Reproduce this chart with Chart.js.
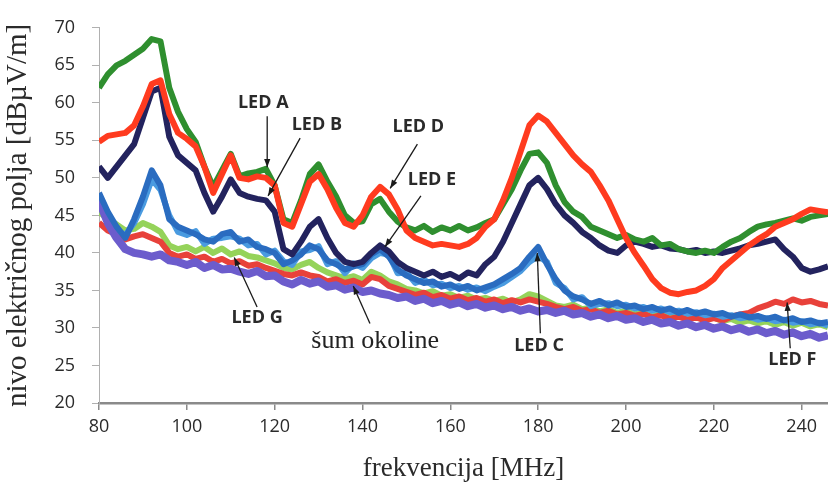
<!DOCTYPE html>
<html>
<head>
<meta charset="utf-8">
<script src="https://cdn.jsdelivr.net/npm/chart.js@4.4.1/dist/chart.umd.min.js"></script>
<style>
  html, body { margin: 0; padding: 0; background: #fff; }
  #wrap { width: 828px; height: 489px; position: relative; }
</style>
</head>
<body>
<div id="wrap"><canvas id="fieldChart"></canvas></div>
<script>
// frequency points in MHz
const freq = [80,82,84,86,88,90,92,94,96,98,100,102,104,106,108,110,112,114,116,118,120,122,124,126,128,130,132,134,136,138,140,142,144,146,148,150,152,154,156,158,160,162,164,166,168,170,172,174,176,178,180,182,184,186,188,190,192,194,196,198,200,202,204,206,208,210,212,214,216,218,220,222,224,226,228,230,232,234,236,238,240,242,244,246];

// field level in dBuV/m
const ledA = [62.0,63.8,65.0,65.6,66.4,67.2,68.5,68.2,62.0,58.8,56.5,54.8,51.5,48.8,51.0,53.2,50.2,50.6,50.8,51.2,49.0,44.5,44.0,47.0,50.5,51.8,49.5,47.5,45.0,44.0,44.2,46.5,47.2,45.5,44.2,43.4,43.0,43.6,42.8,43.4,43.0,43.6,43.0,43.4,44.0,44.5,46.5,48.5,51.0,53.2,53.4,52.0,49.0,46.8,45.5,44.8,43.5,43.0,42.5,42.0,42.4,41.8,41.5,42.0,41.0,41.2,40.5,40.2,40.0,40.3,40.0,40.8,41.5,42.0,42.8,43.5,43.8,44.0,44.3,44.6,44.3,44.8,45.0,45.2];
const ledD = [54.8,55.6,55.8,56.0,57.0,59.5,62.5,63.0,58.5,56.0,55.2,54.2,51.5,48.0,50.5,53.0,50.0,49.8,50.2,50.0,49.0,44.0,43.5,46.5,49.5,50.5,48.5,46.0,44.0,43.5,45.0,47.5,48.8,47.8,45.8,43.0,42.0,41.5,41.0,41.2,41.0,40.8,41.2,42.0,43.5,44.5,47.0,50.0,53.5,57.0,58.3,57.5,56.0,54.5,53.0,51.8,50.8,49.0,47.0,44.5,42.0,40.0,38.3,36.5,35.3,34.7,34.5,34.8,35.0,35.6,36.5,38.0,39.0,40.0,41.0,41.8,42.5,43.5,44.0,44.5,45.2,45.8,45.6,45.4];
const ledB = [51.5,50.0,51.5,53.0,54.5,58.0,61.5,62.0,55.5,53.0,52.0,51.0,48.0,45.5,47.5,49.8,48.0,47.5,47.2,47.0,45.5,40.5,39.8,41.5,43.5,44.5,42.0,40.0,38.8,38.5,38.8,40.0,41.0,40.2,38.8,38.0,37.5,37.0,37.5,36.8,37.2,36.6,37.4,37.0,38.5,39.5,41.5,44.0,46.5,49.0,50.0,48.5,46.5,45.0,44.0,42.8,42.0,41.0,40.3,40.0,41.0,41.5,41.2,40.8,41.0,40.6,40.5,40.2,40.4,40.0,40.2,40.0,40.3,40.6,41.0,41.2,41.5,41.8,40.5,39.5,38.0,37.5,37.8,38.2];
const ledC = [48.0,45.5,43.5,42.0,44.5,47.5,51.0,49.0,44.5,43.5,43.0,42.5,41.8,41.5,42.5,42.8,41.5,41.8,40.8,40.5,40.0,38.5,39.0,39.8,41.0,40.5,39.0,38.5,37.8,38.2,38.5,39.8,40.5,39.5,37.8,37.0,36.5,36.0,36.2,35.5,35.8,35.2,35.6,35.0,35.4,35.8,36.5,37.2,38.0,39.5,40.8,38.5,36.5,35.0,34.2,33.8,33.2,33.6,33.0,33.4,32.8,33.0,32.5,32.8,32.3,32.6,32.0,32.4,31.9,32.2,31.8,32.0,31.5,31.8,31.4,31.6,31.2,31.5,31.0,31.3,30.8,31.0,30.6,30.8];
const ledE = [47.0,44.8,43.0,42.4,44.0,46.5,49.8,48.4,45.0,42.8,42.4,42.9,41.2,41.9,42.0,42.2,41.9,41.0,41.2,39.8,40.3,38.9,38.4,40.2,40.4,40.9,38.5,38.9,37.3,38.6,38.0,39.3,40.0,39.8,37.3,37.4,36.0,36.4,35.7,35.9,35.3,35.6,35.1,35.4,34.9,35.5,36.0,36.8,37.6,38.8,39.6,38.8,36.0,35.3,33.8,34.1,32.9,33.2,33.3,32.9,33.1,32.6,32.8,32.3,32.6,32.1,32.3,31.9,32.1,31.7,31.9,31.5,31.7,31.3,31.5,31.1,31.3,30.9,31.1,30.7,30.9,30.5,30.7,30.3];
const ledF = [44.0,43.0,42.5,41.8,42.2,42.5,42.0,41.5,40.0,39.5,39.8,39.2,39.5,38.8,39.2,38.6,38.9,38.3,38.5,38.0,37.6,37.2,37.0,37.4,37.0,36.8,36.2,36.5,36.0,36.3,35.8,36.8,36.5,35.6,35.2,34.8,34.4,34.7,34.1,34.4,33.9,34.2,33.7,34.0,33.5,33.8,33.3,33.7,33.4,33.8,33.5,33.2,32.8,32.5,32.8,32.3,32.5,32.0,32.3,31.8,32.0,31.6,31.9,31.4,31.7,31.2,31.5,31.1,31.4,31.0,31.3,31.0,31.5,31.8,32.0,32.6,33.0,33.5,33.2,33.8,33.4,33.6,33.2,33.0];
const ledG = [45.5,44.5,43.8,43.0,43.2,44.0,43.5,42.8,41.0,40.5,40.8,40.2,40.8,40.0,40.6,39.8,40.2,39.6,39.4,39.0,38.6,38.0,37.8,38.4,38.8,38.0,37.4,37.0,36.6,36.9,36.4,37.5,37.0,36.2,35.8,35.2,35.0,34.6,34.9,34.3,34.5,34.0,34.3,33.8,34.0,33.6,33.9,33.4,33.8,34.5,34.2,33.6,33.0,32.8,33.1,32.5,32.7,32.2,32.5,32.0,32.3,31.8,32.1,31.5,31.9,31.4,31.7,31.2,31.5,31.0,31.4,30.9,31.2,30.7,31.0,30.6,30.9,30.4,30.8,30.3,30.7,30.2,30.5,30.1];
const noise = [47.0,44.0,42.0,40.5,40.0,39.8,39.5,39.8,39.0,38.8,38.4,38.8,38.0,38.4,37.8,37.9,37.5,37.2,37.6,36.9,37.0,36.2,35.8,36.4,35.9,36.2,35.5,35.7,35.1,35.4,34.8,35.0,34.6,34.4,34.0,34.2,33.6,33.9,33.3,33.6,33.1,33.4,32.9,33.2,32.7,33.0,32.5,32.8,32.3,32.6,32.2,32.4,32.0,32.3,31.8,32.0,31.5,31.8,31.3,31.6,31.1,31.3,30.8,31.1,30.6,30.8,30.3,30.6,30.1,30.4,29.9,30.2,29.7,30.0,29.5,29.8,29.3,29.6,29.1,29.4,28.9,29.2,28.7,29.0];

const yTicks = [20,25,30,35,40,45,50,55,60,65,70];

// text labels with arrows, anchored in data space [MHz, dB]
const notes = [
  { text: 'LED A', at: [117.4, 60.0], from: [118.3, 58.2], to: [118.3, 51.4] },
  { text: 'LED B', at: [129.6, 57.0], from: [125.8, 55.3], to: [118.5, 47.6] },
  { text: 'LED D', at: [152.7, 56.8], from: [152.5, 54.5], to: [146.3, 48.6] },
  { text: 'LED E', at: [155.8, 49.7], from: [153.3, 47.6], to: [145.1, 40.8] },
  { text: 'LED G', at: [116.0, 31.3], from: [116.0, 32.8], to: [110.8, 39.4] },
  { text: 'šum okoline', at: [142.9, 28.2], from: [141.7, 30.6], to: [137.9, 35.6], serif: true },
  { text: 'LED C', at: [180.2, 27.6], from: [180.5, 29.3], to: [179.8, 40.0] },
  { text: 'LED F', at: [237.9, 25.8], from: [237.4, 27.3], to: [236.7, 33.4] }
];

function series(label, data, color, width) {
  return {
    label: label,
    data: freq.map((f, i) => ({ x: f, y: data[i] })),
    borderColor: color,
    backgroundColor: color,
    borderWidth: width,
    pointRadius: 0,
    tension: 0,
    borderJoinStyle: 'round'
  };
}

const notesPlugin = {
  id: 'notes',
  afterDatasetsDraw(chart) {
    const ctx = chart.ctx;
    const xs = chart.scales.x, ys = chart.scales.y;
    ctx.save();
    notes.forEach(n => {
      const x0 = xs.getPixelForValue(n.from[0]), y0 = ys.getPixelForValue(n.from[1]);
      const x1 = xs.getPixelForValue(n.to[0]), y1 = ys.getPixelForValue(n.to[1]);
      ctx.strokeStyle = '#1a1a1a';
      ctx.fillStyle = '#1a1a1a';
      ctx.lineWidth = 1.3;
      ctx.beginPath();
      ctx.moveTo(x0, y0);
      ctx.lineTo(x1, y1);
      ctx.stroke();
      // arrow head
      const a = Math.atan2(y1 - y0, x1 - x0);
      ctx.beginPath();
      ctx.moveTo(x1, y1);
      ctx.lineTo(x1 - 9 * Math.cos(a - 0.35), y1 - 9 * Math.sin(a - 0.35));
      ctx.lineTo(x1 - 9 * Math.cos(a + 0.35), y1 - 9 * Math.sin(a + 0.35));
      ctx.closePath();
      ctx.fill();

      ctx.textAlign = 'center';
      ctx.textBaseline = 'middle';
      ctx.fillStyle = n.serif ? '#222' : '#2a2a2a';
      ctx.font = n.serif ? '26px "Liberation Serif", serif' : 'bold 18px "Open Sans", sans-serif';
      ctx.fillText(n.text, xs.getPixelForValue(n.at[0]), ys.getPixelForValue(n.at[1]));
    });
    ctx.restore();
  }
};

const ctx = document.getElementById('fieldChart').getContext('2d');
new Chart(ctx, {
  type: 'line',
  data: {
    datasets: [
      series('LED D', ledD, '#ff3b1f', 6),
      series('LED A', ledA, '#2f8f2f', 6),
      series('LED B', ledB, '#23235e', 6),
      series('LED C', ledC, '#2a6cc0', 6),
      series('šum okoline', noise, '#6c5ccc', 8),
      series('LED E', ledE, '#4a9be0', 6),
      series('LED F', ledF, '#e8413a', 6),
      series('LED G', ledG, '#95d35a', 6)
    ]
  },
  options: {
    responsive: true,
    maintainAspectRatio: false,
    animation: false,
    layout: { padding: { top: 21, right: 0, left: 0, bottom: 0 } },
    plugins: {
      legend: { display: false },
      tooltip: { enabled: false }
    },
    scales: {
      x: {
        type: 'linear',
        min: 80,
        max: 246,
        afterFit: scale => { scale.height = 86; },
        ticks: {
          stepSize: 20,
          includeBounds: false,
          padding: 6,
          color: '#2b2b2b',
          font: { family: '"Open Sans", sans-serif', size: 18 }
        },
        grid: { drawOnChartArea: false, drawTicks: true, tickLength: 7, color: '#8a8a8a', lineWidth: 1.5 },
        border: { display: true, color: '#8a8a8a', width: 2.5 },
        title: {
          display: true,
          text: 'frekvencija [MHz]',
          color: '#2b2b2b',
          padding: { top: 0, bottom: 4 },
          font: { family: '"Liberation Serif", serif', size: 27 }
        }
      },
      y: {
        min: 20,
        max: 70,
        afterFit: scale => { scale.width = 99; },
        afterBuildTicks: scale => { scale.ticks = yTicks.map(v => ({ value: v })); },
        ticks: {
          padding: 17,
          color: '#2b2b2b',
          font: { family: '"Open Sans", sans-serif', size: 18 }
        },
        grid: { drawOnChartArea: false, drawTicks: true, tickLength: 7, color: '#b0b0b0' },
        border: { display: true, color: '#b0b0b0', width: 1 },
        title: {
          display: true,
          text: 'nivo električnog polja [dBµV/m]',
          color: '#2b2b2b',
          padding: { top: 1, bottom: 0 },
          font: { family: '"Liberation Serif", serif', size: 29 }
        }
      }
    }
  },
  plugins: [notesPlugin]
});
</script>
</body>
</html>
